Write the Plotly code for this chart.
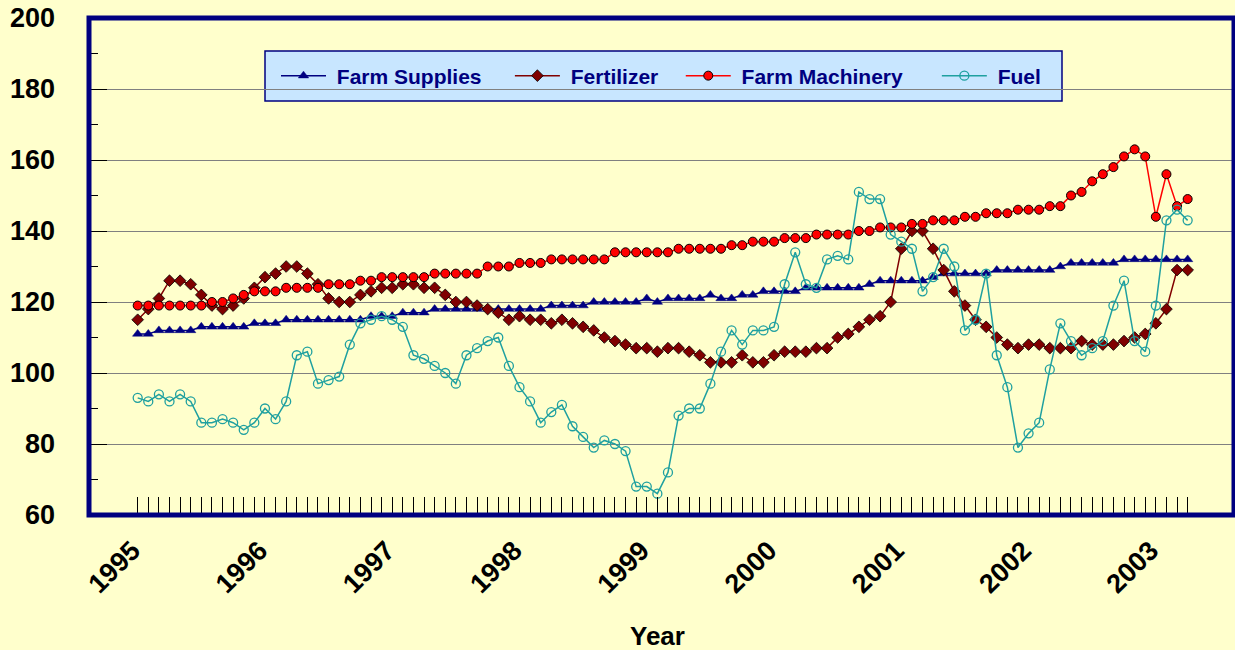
import plotly.graph_objects as go

# ---- data (monthly index values, Jan 1995 - Apr 2003) ----
years = ["1995", "1996", "1997", "1998", "1999", "2000", "2001", "2002", "2003"]

farm_supplies = [
    111, 111, 112, 112, 112, 112, 113, 113, 113, 113, 113, 114,
    114, 114, 115, 115, 115, 115, 115, 115, 115, 115, 116, 116,
    116, 117, 117, 117, 118, 118, 118, 118, 118, 118, 118, 118,
    118, 118, 118, 119, 119, 119, 119, 120, 120, 120, 120, 120,
    121, 120, 121, 121, 121, 121, 122, 121, 121, 122, 122, 123,
    123, 123, 123, 124, 124, 124, 124, 124, 124, 125, 126, 126,
    126, 126, 126, 127, 128, 128, 128, 128, 128, 129, 129, 129,
    129, 129, 129, 130, 131, 131, 131, 131, 131, 132, 132, 132,
    132, 132, 132, 132]

fertilizer = [
    115, 118, 121, 126, 126, 125, 122, 119, 118, 119, 121, 124,
    127, 128, 130, 130, 128, 125, 121, 120, 120, 122, 123, 124,
    124, 125, 125, 124, 124, 122, 120, 120, 119, 118, 117, 115,
    116, 115, 115, 114, 115, 114, 113, 112, 110, 109, 108, 107,
    107, 106, 107, 107, 106, 105, 103, 103, 103, 105, 103, 103,
    105, 106, 106, 106, 107, 107, 110, 111, 113, 115, 116, 120,
    135, 140, 140, 135, 129, 123, 119, 115, 113, 110, 108, 107,
    108, 108, 107, 107, 107, 109, 108, 108, 108, 109, 110, 111,
    114, 118, 129, 129]

farm_machinery = [
    119, 119, 119, 119, 119, 119, 119, 120, 120, 121, 122, 123,
    123, 123, 124, 124, 124, 124, 125, 125, 125, 126, 126, 127,
    127, 127, 127, 127, 128, 128, 128, 128, 128, 130, 130, 130,
    131, 131, 131, 132, 132, 132, 132, 132, 132, 134, 134, 134,
    134, 134, 134, 135, 135, 135, 135, 135, 136, 136, 137, 137,
    137, 138, 138, 138, 139, 139, 139, 139, 140, 140, 141, 141,
    141, 142, 142, 143, 143, 143, 144, 144, 145, 145, 145, 146,
    146, 146, 147, 147, 150, 151, 154, 156, 158, 161, 163, 161,
    144, 156, 147, 149]

fuel = [
    93, 92, 94, 92, 94, 92, 86, 86, 87, 86, 84, 86,
    90, 87, 92, 105, 106, 97, 98, 99, 108, 114, 115, 116,
    115, 113, 105, 104, 102, 100, 97, 105, 107, 109, 110, 102,
    96, 92, 86, 89, 91, 85, 82, 79, 81, 80, 78, 68,
    68, 66, 72, 88, 90, 90, 97, 106, 112, 108, 112, 112,
    113, 125, 134, 125, 124, 132, 133, 132, 151, 149, 149, 139,
    137, 135, 123, 127, 135, 130, 112, 115, 128, 105, 96, 79,
    83, 86, 101, 114, 109, 105, 107, 109, 119, 126, 109, 106,
    119, 143, 146, 143]

FONT = "Liberation Sans, Arial, sans-serif"
NAVY = "#000080"
NB = "\u00a0"

months = list(range(len(farm_supplies)))
ticktext = []
for m in months:
    if m % 12 == 0 and m // 12 < len(years):
        ticktext.append(years[m // 12] + NB)
    else:
        ticktext.append("")

fig = go.Figure()
fig.add_trace(go.Scatter(
    x=months, y=farm_supplies, name=NB + "Farm Supplies" + NB * 4, mode="lines+markers",
    line=dict(color=NAVY, width=1.5),
    marker=dict(symbol="triangle-up", size=9, color=NAVY, line=dict(color=NAVY, width=0.5))))
fig.add_trace(go.Scatter(
    x=months, y=fertilizer, name=NB + "Fertilizer" + NB * 3, mode="lines+markers",
    line=dict(color="#800000", width=1.5),
    marker=dict(symbol="diamond", size=9, color="#800000", line=dict(color="#000000", width=0.8))))
fig.add_trace(go.Scatter(
    x=months, y=farm_machinery, name=NB + "Farm Machinery" + NB * 5, mode="lines+markers",
    line=dict(color="#FF0000", width=1.5),
    marker=dict(symbol="circle", size=9, color="#FF0000", line=dict(color="#000000", width=1))))
fig.add_trace(go.Scatter(
    x=months, y=fuel, name=NB + "Fuel", mode="lines+markers",
    line=dict(color="#1FA0A0", width=1.5),
    marker=dict(symbol="circle-open", size=9, color="#1FA0A0", line=dict(width=1.3))))

PW = 1235 - 89 - 1
PH = 650 - 18 - 135


def px_x(x):
    return (x - 89) / PW


def px_y(y):
    return (18 + PH - y) / PH


fig.update_layout(
    width=1235, height=650,
    margin=dict(l=89, r=1, t=18, b=135),
    paper_bgcolor="#FFFFCC", plot_bgcolor="#FFFFCC",
    font=dict(family=FONT, color="#000000"),
    showlegend=True,
    legend=dict(
        orientation="h", x=px_x(276), y=px_y(76), xanchor="left", yanchor="middle",
        bgcolor="rgba(0,0,0,0)", borderwidth=0,
        font=dict(family=FONT, size=21, color=NAVY, weight=700),
        itemwidth=45,
    ),
    xaxis=dict(
        range=[-4.59, 103.37], tickmode="array", tickvals=months, ticktext=ticktext,
        ticks="inside", ticklen=18, tickwidth=1, tickcolor="#000000",
        tickangle=-45, tickfont=dict(family=FONT, size=27, color="#000000", weight=700),
        showgrid=False, zeroline=False, showline=False, ticklabelstandoff=8,
    ),
    yaxis=dict(
        range=[60, 200], tick0=60, dtick=20,
        ticks="inside", ticklen=18, tickwidth=1.3, tickcolor="#000000",
        showgrid=True, gridcolor="#808080", gridwidth=1.3,
        minor=dict(ticks="inside", ticklen=9, dtick=10, tickcolor="#000000", tickwidth=1.3, showgrid=False),
        tickfont=dict(family=FONT, size=27, color="#000000", weight=700),
        zeroline=False, showline=False, ticklabelstandoff=33,
    ),
    shapes=[
        dict(type="rect", xref="paper", yref="paper",
             x0=px_x(265), x1=px_x(1062), y0=px_y(101), y1=px_y(51),
             fillcolor="#C8E6FF", line=dict(color=NAVY, width=1.5), layer="between"),
        dict(type="rect", xref="paper", yref="paper", x0=0, x1=1, y0=0, y1=1,
             line=dict(color=NAVY, width=5), layer="above"),
    ],
    annotations=[dict(text="Year", xref="paper", yref="paper", x=px_x(657), y=px_y(636),
                      xanchor="center", yanchor="middle", showarrow=False,
                      font=dict(family=FONT, size=26, color="#000000", weight=700))],
)

fig.write_html("out.html", config={"displayModeBar": False},
               post_script="document.body.style.margin='0';document.body.style.overflow='hidden';")
